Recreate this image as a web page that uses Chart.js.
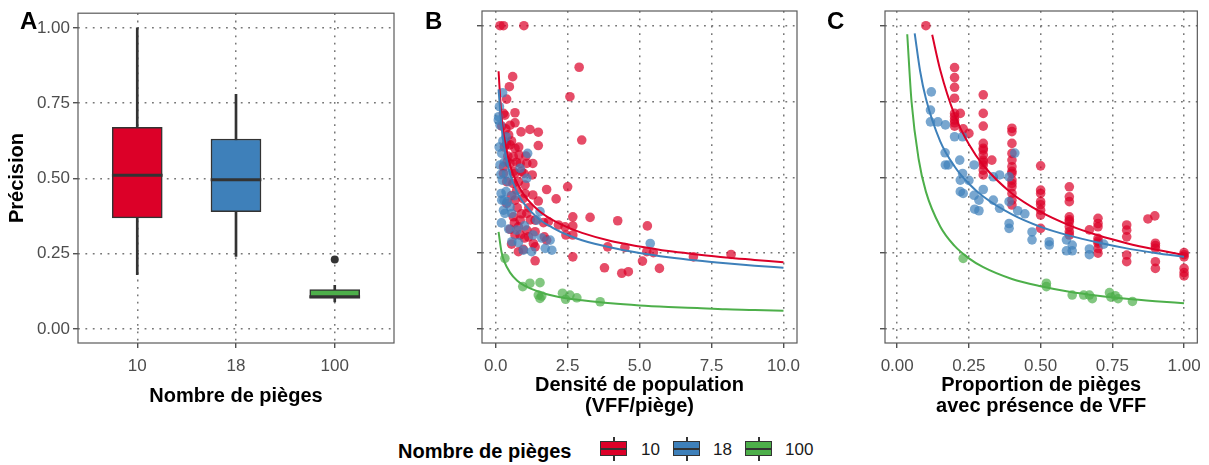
<!DOCTYPE html>
<html>
<head>
<meta charset="utf-8">
<script src="https://cdn.jsdelivr.net/npm/chart.js@4"></script>
<style>
  body { margin: 0; background: #fff; }
  #wrap { position: relative; width: 1209px; height: 465px; font-family: 'Liberation Sans', Arial, sans-serif; }
  canvas { position: absolute; top: 0; }
  .tag { position: absolute; top: 9px; font-weight: bold; font-size: 24px; line-height: 24px; color: #000; }
  .leg { position: absolute; line-height: 17px; font-size: 17px; color: #1a1a1a; }
  .legTitle { position: absolute; left: 398px; top: 441px; font-weight: bold; font-size: 20px; line-height: 20px; color: #000; }
  .glyph { position: absolute; top: 437px; width: 27px; height: 24px; }
  .glyph .wh { position: absolute; left: 12.5px; top: 0; width: 2px; height: 24px; background: #333; }
  .glyph .bx { position: absolute; left: 0; top: 4px; width: 27px; height: 15px; box-sizing: border-box; border: 1.5px solid #333; }
  .glyph .md { position: absolute; left: 0; top: 10.5px; width: 27px; height: 2px; background: #333; }
</style>
</head>
<body>
<div id="wrap">
  <canvas id="boxChart" width="400" height="420" style="left:0"></canvas>
  <canvas id="densChart" width="410" height="420" style="left:400px"></canvas>
  <canvas id="propChart" width="399" height="420" style="left:810px"></canvas>
  <div class="tag" style="left:20px">A</div>
  <div class="tag" style="left:425px">B</div>
  <div class="tag" style="left:827px">C</div>
  <div class="legTitle">Nombre de pièges</div>
  <div id="legend"></div>
</div>
<script>
// categories (nombre de pièges) and colours
const categories = ['10', '18', '100'];
const colors = ['#DC0028', '#3E80BA', '#4DAF4A'];
const pointColors = ['rgba(220,0,40,0.7)', 'rgba(62,128,186,0.7)', 'rgba(77,175,74,0.7)'];

// Panel A: boxplot statistics
const boxMin = [0.181, 0.241, 0.090];
const boxQ1 = [0.369, 0.390, 0.104];
const boxMedian = [0.511, 0.496, 0.107];
const boxQ3 = [0.670, 0.631, 0.131];
const boxMax = [1.000, 0.779, 0.145];
const outliers = [[3, 0.231]];

// tick values
const yTicks = [0, 0.25, 0.5, 0.75, 1];
const densTicks = [0, 2.5, 5, 7.5, 10];
const propTicks = [0, 0.25, 0.5, 0.75, 1];

// Panel B: densité (x) vs précision (y)
const dens10 = [[0.15,1.0],[0.27,1.0],[0.98,1.0],[2.9,0.863],[2.58,0.766],[2.99,0.623],[0.59,0.832],[0.475,0.799],[0.38,0.758],[0.67,0.713],[0.27,0.711],[0.32,0.705],[0.21,0.669],[0.5,0.672],[0.67,0.68],[0.88,0.65],[1.19,0.658],[1.48,0.649],[1.48,0.605],[0.38,0.61],[0.5,0.607],[0.67,0.596],[0.81,0.574],[0.61,0.568],[0.4,0.552],[0.5,0.546],[0.27,0.535],[0.85,0.546],[1.08,0.546],[1.29,0.546],[0.67,0.513],[0.98,0.513],[1.27,0.508],[0.27,0.513],[0.38,0.486],[0.79,0.486],[1.02,0.475],[0.73,0.458],[1.29,0.442],[1.02,0.447],[1.48,0.422],[1.77,0.46],[2.1,0.429],[2.5,0.469],[0.38,0.414],[0.67,0.425],[0.61,0.37],[0.85,0.359],[1.08,0.381],[1.37,0.359],[1.66,0.351],[1.83,0.354],[0.5,0.329],[0.79,0.337],[1.08,0.326],[1.37,0.321],[0.67,0.31],[0.85,0.31],[1.14,0.304],[1.69,0.304],[1.77,0.293],[1.31,0.282],[1.37,0.271],[0.96,0.263],[0.79,0.255],[1.37,0.225],[2.18,0.343],[2.41,0.337],[2.68,0.37],[2.68,0.34],[2.44,0.31],[2.68,0.31],[2.68,0.238],[3.28,0.368],[4.24,0.357],[5.27,0.34],[3.89,0.271],[4.49,0.269],[5.25,0.255],[5.48,0.252],[3.78,0.202],[4.38,0.184],[4.61,0.189],[5.1,0.224],[5.69,0.2],[6.87,0.238],[8.18,0.246],[0.45,0.64],[0.55,0.62],[0.72,0.55],[0.9,0.52],[0.6,0.48],[0.95,0.43],[1.15,0.4],[0.55,0.44],[0.75,0.4],[0.9,0.38],[1.2,0.36],[0.65,0.35],[1.0,0.3],[0.55,0.28],[0.3,0.6],[0.35,0.66],[0.42,0.57],[0.8,0.6],[1.05,0.57],[0.62,0.52]];
const dens18 = [[0.24,0.779],[0.13,0.733],[0.09,0.689],[0.15,0.672],[0.36,0.634],[0.21,0.579],[0.15,0.541],[0.23,0.491],[0.19,0.447],[0.27,0.392],[0.44,0.486],[0.38,0.513],[1.11,0.579],[0.85,0.53],[1.08,0.497],[0.29,0.425],[0.5,0.403],[0.32,0.381],[0.56,0.381],[0.73,0.326],[0.56,0.288],[0.79,0.285],[1.54,0.387],[1.43,0.359],[1.89,0.293],[1.72,0.266],[1.95,0.26],[1.25,0.255],[0.96,0.26],[5.37,0.282],[0.36,0.453],[0.21,0.425],[0.12,0.6],[0.25,0.62],[0.18,0.51],[0.3,0.55],[0.4,0.42],[0.65,0.44],[0.1,0.7],[0.2,0.35],[0.45,0.33],[1.0,0.34],[1.3,0.31],[1.6,0.3]];
const dens100 = [[0.32,0.233],[0.94,0.14],[1.19,0.151],[1.54,0.153],[1.48,0.112],[1.54,0.101],[1.6,0.109],[2.32,0.118],[2.43,0.098],[2.58,0.112],[2.82,0.103],[3.63,0.09]];

// Panel B fitted curves
const fitDensX = [0.1, 0.2, 0.3, 0.5, 0.75, 1, 1.5, 2, 2.5, 3, 4, 5, 6, 7, 8, 9, 10];
const fitDens10 = [0.85, 0.70, 0.63, 0.54, 0.48, 0.44, 0.39, 0.358, 0.335, 0.317, 0.29, 0.272, 0.257, 0.246, 0.236, 0.228, 0.22];
const fitDens18 = [0.79, 0.67, 0.597, 0.51, 0.45, 0.412, 0.363, 0.333, 0.31, 0.293, 0.269, 0.251, 0.237, 0.226, 0.217, 0.209, 0.202];
const fitDens100 = [0.32, 0.255, 0.222, 0.186, 0.159, 0.143, 0.123, 0.11, 0.101, 0.095, 0.085, 0.078, 0.073, 0.069, 0.065, 0.063, 0.06];

// Panel C: proportion de pièges (x) vs précision (y)
const prop10 = [[0.1,1.0],[0.2,0.862],[0.2,0.829],[0.2,0.797],[0.2,0.761],[0.2,0.711],[0.2,0.689],[0.2,0.669],[0.2,0.70],[0.2,0.68],[0.22,0.711],[0.23,0.66],[0.25,0.645],[0.3,0.772],[0.3,0.711],[0.3,0.669],[0.3,0.612],[0.3,0.596],[0.3,0.574],[0.3,0.557],[0.3,0.541],[0.3,0.524],[0.3,0.508],[0.3,0.59],[0.3,0.55],[0.33,0.557],[0.4,0.662],[0.4,0.651],[0.4,0.612],[0.4,0.579],[0.4,0.557],[0.4,0.535],[0.4,0.513],[0.4,0.491],[0.4,0.469],[0.4,0.447],[0.4,0.425],[0.4,0.409],[0.4,0.52],[0.4,0.48],[0.5,0.538],[0.5,0.458],[0.5,0.447],[0.5,0.42],[0.5,0.392],[0.5,0.376],[0.5,0.332],[0.5,0.41],[0.6,0.469],[0.6,0.436],[0.6,0.42],[0.6,0.37],[0.6,0.354],[0.6,0.337],[0.6,0.321],[0.6,0.31],[0.6,0.36],[0.67,0.327],[0.7,0.365],[0.7,0.348],[0.7,0.337],[0.7,0.299],[0.7,0.283],[0.7,0.266],[0.7,0.25],[0.7,0.29],[0.8,0.343],[0.8,0.326],[0.8,0.304],[0.8,0.244],[0.8,0.222],[0.874,0.363],[0.898,0.373],[0.9,0.283],[0.9,0.266],[0.9,0.222],[0.9,0.2],[0.9,0.275],[1.0,0.252],[1.0,0.238],[1.0,0.2],[1.0,0.186],[1.0,0.175],[1.0,0.245]];
const prop18 = [[0.119,0.782],[0.116,0.722],[0.116,0.683],[0.142,0.683],[0.168,0.673],[0.2,0.634],[0.228,0.634],[0.167,0.581],[0.168,0.541],[0.178,0.541],[0.218,0.557],[0.22,0.491],[0.228,0.513],[0.268,0.541],[0.22,0.453],[0.23,0.447],[0.268,0.441],[0.285,0.425],[0.27,0.395],[0.285,0.39],[0.335,0.502],[0.357,0.508],[0.335,0.425],[0.357,0.398],[0.39,0.502],[0.41,0.58],[0.39,0.42],[0.42,0.39],[0.445,0.38],[0.39,0.348],[0.39,0.332],[0.47,0.32],[0.47,0.294],[0.53,0.288],[0.53,0.277],[0.59,0.294],[0.59,0.258],[0.61,0.277],[0.61,0.258],[0.67,0.264],[0.67,0.245],[0.72,0.28],[0.25,0.49],[0.3,0.46]];
const prop100 = [[0.23,0.233],[0.52,0.151],[0.52,0.14],[0.61,0.112],[0.65,0.112],[0.67,0.112],[0.68,0.1],[0.74,0.12],[0.745,0.105],[0.76,0.11],[0.77,0.1],[0.82,0.091]];

// Panel C fitted curves
const fitProp10X = [0.122, 0.15, 0.2, 0.25, 0.3, 0.4, 0.5, 0.6, 0.7, 0.8, 0.9, 1];
const fitProp10 = [0.97, 0.854, 0.706, 0.609, 0.54, 0.447, 0.386, 0.342, 0.309, 0.283, 0.262, 0.244];
const fitProp18X = [0.061, 0.08, 0.1, 0.15, 0.2, 0.25, 0.3, 0.4, 0.5, 0.6, 0.7, 0.8, 0.9, 1];
const fitProp18 = [0.975, 0.85, 0.76, 0.619, 0.536, 0.479, 0.437, 0.378, 0.337, 0.308, 0.285, 0.266, 0.251, 0.238];
const fitProp100X = [0.035, 0.05, 0.075, 0.1, 0.15, 0.2, 0.25, 0.3, 0.4, 0.5, 0.6, 0.7, 0.8, 0.9, 1];
const fitProp100 = [0.972, 0.75, 0.559, 0.453, 0.338, 0.274, 0.233, 0.204, 0.165, 0.141, 0.123, 0.11, 0.1, 0.092, 0.085];

Chart.defaults.font.family = "'Liberation Sans', Arial, sans-serif";
Chart.defaults.animation = false;

const gridDash = [1.8, 5.6];
const gridColor = 'rgba(95,95,95,0.85)';
const tickFont = { size: 17 };
const titleFont = { size: 20, weight: 'bold', lineHeight: 1.075 };

// draw the panel frame
const framePlugin = {
	id: 'frame',
	afterDraw(chart) {
		const { ctx, chartArea: a } = chart;
		ctx.save();
		ctx.strokeStyle = '#5a5a5a';
		ctx.lineWidth = 1.2;
		ctx.strokeRect(a.left, a.top, a.width, a.height);
		ctx.restore();
	}
};

function fixedTicks(values) {
	return scale => { scale.ticks = values.map(v => ({ value: v })); };
}

function axisBase(min, max, ticks, size, isX) {
	return {
		type: 'linear',
		min: min,
		max: max,
		offset: false,
		afterBuildTicks: fixedTicks(ticks),
		afterFit: s => { if (isX) s.height = size; else s.width = size; },
		grid: { offset: false, color: gridColor, lineWidth: 1.5, drawTicks: true, tickLength: 5, tickColor: '#333', tickWidth: 1.2 },
		border: { display: false, dash: gridDash },
		ticks: { color: '#4d4d4d', font: tickFont, padding: isX ? 8 : 3 }
	};
}

function yAxis(width, showLabels) {
	const ax = axisBase(-0.046, 1.0485, yTicks, width, false);
	ax.ticks.display = showLabels;
	ax.ticks.callback = v => v.toFixed(2);
	return ax;
}

const pts = arr => arr.map(p => ({ x: p[0], y: p[1] }));
const curve = (xs, ys) => xs.map((x, i) => ({ x: x, y: ys[i] }));

function scatterSet(data, i) {
	return { type: 'scatter', data: pts(data), backgroundColor: pointColors[i], borderWidth: 0, pointRadius: 4.8, order: 3 - i };
}
function curveSet(xs, ys, i) {
	return { type: 'line', data: curve(xs, ys), borderColor: colors[i], borderWidth: 2, pointRadius: 0, fill: false, cubicInterpolationMode: 'monotone', order: -i };
}

const commonPlugins = { legend: { display: false }, tooltip: { enabled: false } };

// Panel A
const xA = axisBase(0.4, 3.6, categories.map((c, i) => i + 1), 77, true);
xA.ticks.callback = v => categories[Math.round(v) - 1];
xA.title = { display: true, text: 'Nombre de pièges', color: '#000', font: titleFont, padding: { top: 0, bottom: 13 } };
const yA = yAxis(78, true);
yA.title = { display: true, text: 'Précision', color: '#000', font: titleFont, padding: { top: 7, bottom: 0 } };

new Chart(document.getElementById('boxChart'), {
	type: 'bar',
	data: {
		datasets: [
			{ data: categories.map((c, i) => ({ x: i + 1, y: [boxMin[i], boxMax[i]] })), backgroundColor: '#333', barThickness: 2, grouped: false, order: 4 },
			{ data: categories.map((c, i) => ({ x: i + 1, y: [boxQ1[i], boxQ3[i]] })), backgroundColor: colors, borderColor: '#333', borderWidth: 1.5, borderSkipped: false, barThickness: 50, grouped: false, order: 3 },
			{ data: categories.map((c, i) => ({ x: i + 1, y: [boxMedian[i] - 0.004, boxMedian[i] + 0.004] })), backgroundColor: '#333', barThickness: 50, grouped: false, order: 2 },
			{ type: 'scatter', data: pts(outliers), backgroundColor: '#333', borderWidth: 0, pointRadius: 4, order: 1 }
		]
	},
	options: {
		responsive: false,
		layout: { padding: { left: 0, right: 6, top: 11, bottom: 0 } },
		plugins: commonPlugins,
		scales: { x: xA, y: yA }
	},
	plugins: [framePlugin]
});

// Panel B
const xB = axisBase(-0.476, 10.47, densTicks, 77, true);
xB.ticks.callback = v => v.toFixed(1);
xB.title = { display: true, text: ['Densité de population', '(VFF/piège)'], color: '#000', font: titleFont, padding: { top: 0, bottom: 2.75 } };

new Chart(document.getElementById('densChart'), {
	type: 'scatter',
	data: {
		datasets: [
			curveSet(fitDensX, fitDens10, 0),
			curveSet(fitDensX, fitDens18, 1),
			curveSet(fitDensX, fitDens100, 2),
			scatterSet(dens10, 0),
			scatterSet(dens18, 1),
			scatterSet(dens100, 2)
		]
	},
	options: {
		responsive: false,
		layout: { padding: { left: 0, right: 13, top: 11, bottom: 0 } },
		plugins: commonPlugins,
		scales: { x: xB, y: yAxis(82, false) }
	},
	plugins: [framePlugin]
});

// Panel C
const xC = axisBase(-0.0425, 1.0462, propTicks, 77, true);
xC.ticks.callback = v => v.toFixed(2);
xC.title = { display: true, text: ['Proportion de pièges', 'avec présence de VFF'], color: '#000', font: titleFont, padding: { top: 0, bottom: 2.75 } };

new Chart(document.getElementById('propChart'), {
	type: 'scatter',
	data: {
		datasets: [
			curveSet(fitProp10X, fitProp10, 0),
			curveSet(fitProp18X, fitProp18, 1),
			curveSet(fitProp100X, fitProp100, 2),
			scatterSet(prop10, 0),
			scatterSet(prop18, 1),
			scatterSet(prop100, 2)
		]
	},
	options: {
		responsive: false,
		layout: { padding: { left: 0, right: 9, top: 11, bottom: 0 } },
		plugins: commonPlugins,
		scales: { x: xC, y: yAxis(75, false) }
	},
	plugins: [framePlugin]
});

// bottom legend
const legendLeft = [600, 673, 745];
const labelLeft = [641, 713, 785];
const legend = document.getElementById('legend');
categories.forEach((c, i) => {
	const g = document.createElement('div');
	g.className = 'glyph';
	g.style.left = legendLeft[i] + 'px';
	g.innerHTML = '<div class="wh"></div><div class="bx" style="background:' + colors[i] + '"></div><div class="md"></div>';
	legend.appendChild(g);
	const t = document.createElement('div');
	t.className = 'leg';
	t.style.left = labelLeft[i] + 'px';
	t.style.top = '440.6px';
	t.textContent = c;
	legend.appendChild(t);
});
</script>
</body>
</html>
